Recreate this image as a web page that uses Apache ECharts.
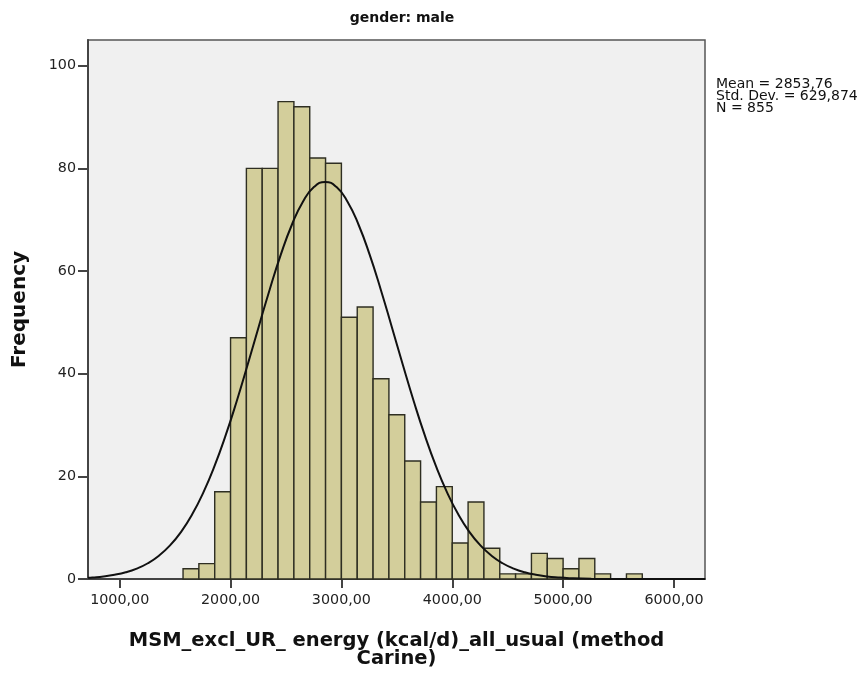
<!DOCTYPE html>
<html>
<head>
<meta charset="utf-8">
<script src="https://cdn.jsdelivr.net/npm/echarts@6/dist/echarts.min.js"></script>
<style>html,body{margin:0;padding:0;background:#fff}#c{width:866px;height:679px}</style>
</head>
<body>
<div id="c"></div>
<script>
// Histogram bins (lower edge of first bin and bin width, in kcal/d)
var binStart = 1571.43;
var binWidth = 142.857;
var counts = [2, 3, 17, 47, 80, 80, 93, 92, 82, 81, 51, 53, 39, 32, 23, 15, 18, 7, 15, 6, 1, 1, 5, 4, 2, 4, 1, 0, 1];
// Normal curve
var curveX = [714, 754, 854, 954, 1054, 1154, 1254, 1354, 1454, 1554, 1654, 1754, 1854, 1954, 2054, 2154, 2254, 2354, 2454, 2554, 2654, 2754, 2854, 2954, 3054, 3154, 3254, 3354, 3454, 3554, 3654, 3754, 3854, 3954, 4054, 4154, 4254, 4354, 4454, 4554, 4654, 4754, 4854, 4954, 5054, 5254, 5554, 5854, 6280];
var curveY = [0.24, 0.30, 0.50, 0.82, 1.30, 2.03, 3.07, 4.54, 6.54, 9.19, 12.60, 16.84, 21.94, 27.87, 34.53, 41.72, 49.14, 56.46, 63.23, 69.06, 73.56, 76.39, 77.36, 76.39, 73.56, 69.06, 63.23, 56.46, 49.14, 41.72, 34.53, 27.87, 21.94, 16.84, 12.60, 9.19, 6.54, 4.54, 3.07, 2.03, 1.30, 0.82, 0.50, 0.30, 0.17, 0.05, 0.01, 0, 0];
var xTicks = [1000, 2000, 3000, 4000, 5000, 6000];
var yTicks = [0, 20, 40, 60, 80, 100];
var statsLines = ['Mean = 2853,76', 'Std. Dev. = 629,874', 'N = 855'];

var histData = counts.map(function (c, i) {
  return [binStart + i * binWidth, binStart + (i + 1) * binWidth, c];
});
var curveData = curveX.map(function (x, i) { return [x, curveY[i]]; });

var chart = echarts.init(document.getElementById('c'));
var font = '"DejaVu Sans", Arial, sans-serif';
chart.setOption({
  backgroundColor: '#ffffff',
  animation: false,
  title: {
    text: 'gender: male',
    left: 397, top: 6, textAlign: 'center',
    textStyle: { fontFamily: font, fontSize: 14, fontWeight: 'bold', color: '#111' }
  },
  grid: {
    left: 88, right: 161, top: 40, bottom: 100,
    show: true, backgroundColor: '#f0f0f0', borderColor: '#555', borderWidth: 1.5
  },
  xAxis: {
    type: 'value', min: 714, max: 6280,
    splitLine: { show: false },
    axisLine: { show: true, onZero: false, lineStyle: { color: '#444', width: 2 } },
    axisTick: { show: true, length: 9, customValues: xTicks, lineStyle: { color: '#444', width: 2 } },
    axisLabel: {
      customValues: xTicks, color: '#222', fontFamily: font, fontSize: 14.3, margin: 14,
      formatter: function (v) { return v.toFixed(2).replace('.', ','); }
    },
    name: 'MSM_excl_UR_ energy (kcal/d)_all_usual (method\nCarine)',
    nameLocation: 'middle', nameGap: 53,
    nameTextStyle: { fontFamily: font, fontSize: 19.5, fontWeight: 'bold', color: '#111', lineHeight: 18 }
  },
  yAxis: {
    type: 'value', min: 0, max: 105,
    splitLine: { show: false },
    axisLine: { show: true, lineStyle: { color: '#444', width: 2 } },
    axisTick: { show: true, length: 10, customValues: yTicks, lineStyle: { color: '#444', width: 2 } },
    axisLabel: { customValues: yTicks, color: '#222', fontFamily: font, fontSize: 14.3, margin: 12 },
    name: 'Frequency', nameLocation: 'middle', nameGap: 58,
    nameTextStyle: { fontFamily: font, fontSize: 20, fontWeight: 'bold', color: '#111' }
  },
  graphic: [{
    type: 'text', left: 716, top: 77,
    style: { text: statsLines.join('\n'), fontFamily: font, fontSize: 14, lineHeight: 12, fill: '#111' }
  }],
  series: [{
    type: 'custom',
    data: histData,
    encode: { x: [0, 1], y: 2 },
    renderItem: function (params, api) {
      var p0 = api.coord([api.value(0), 0]);
      var p1 = api.coord([api.value(1), api.value(2)]);
      return {
        type: 'rect',
        shape: { x: p0[0], y: p1[1], width: p1[0] - p0[0], height: p0[1] - p1[1] },
        style: { fill: '#d3ce9b', stroke: '#2e2e22', lineWidth: 1.4 }
      };
    },
    z: 2
  }, {
    type: 'line',
    data: curveData,
    smooth: true,
    showSymbol: false,
    lineStyle: { color: '#111', width: 2 },
    z: 3
  }]
});
</script>
</body>
</html>
